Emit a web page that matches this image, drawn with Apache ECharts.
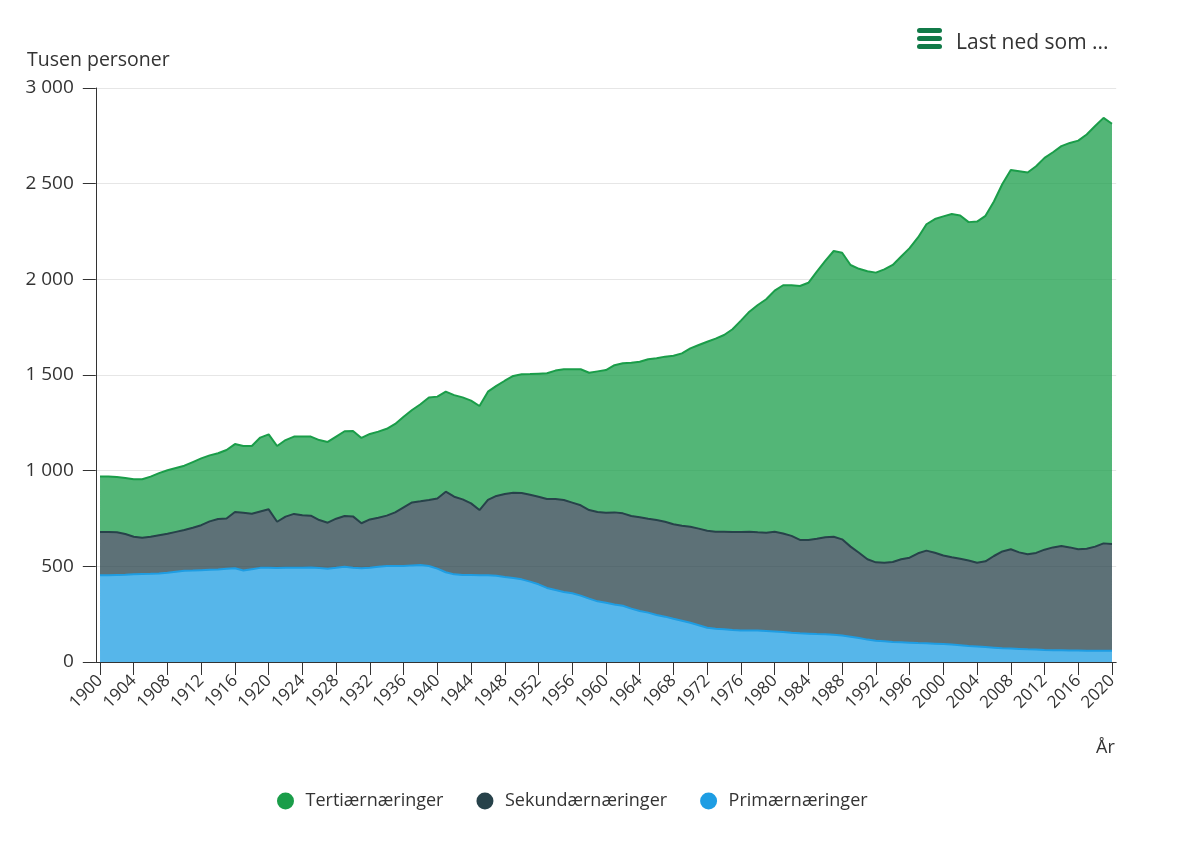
<!DOCTYPE html>
<html>
<head>
<meta charset="UTF-8">
<title>Sysselsatte etter næring</title>
<script src="https://cdn.jsdelivr.net/npm/echarts@6.0.0/dist/echarts.min.js"></script>
<style>
    html,body
    {
        height:100%;
        margin:0;
        width:100%;
        background:#fff;
    }
    #chart{width:1178px;height:843px;}
</style>
</head>
<body>
<div id="chart"></div>
<script>
// årstall og verdier (tusen personer), lest av figuren
var years = ['1900','1901','1902','1903','1904','1905','1906','1907','1908','1909',
    '1910','1911','1912','1913','1914','1915','1916','1917','1918','1919',
    '1920','1921','1922','1923','1924','1925','1926','1927','1928','1929',
    '1930','1931','1932','1933','1934','1935','1936','1937','1938','1939',
    '1940','1941','1942','1943','1944','1945','1946','1947','1948','1949',
    '1950','1951','1952','1953','1954','1955','1956','1957','1958','1959',
    '1960','1961','1962','1963','1964','1965','1966','1967','1968','1969',
    '1970','1971','1972','1973','1974','1975','1976','1977','1978','1979',
    '1980','1981','1982','1983','1984','1985','1986','1987','1988','1989',
    '1990','1991','1992','1993','1994','1995','1996','1997','1998','1999',
    '2000','2001','2002','2003','2004','2005','2006','2007','2008','2009',
    '2010','2011','2012','2013','2014','2015','2016','2017','2018','2019',
    '2020'];

var primaer = [453,454,455,456,458,460,461,463,466,472,
    477,478,480,482,484,487,490,478,485,492,
    493,491,492,492,493,494,491,488,492,498,
    492,490,492,498,502,502,502,505,507,502,
    488,469,458,455,455,453,453,451,444,439,
    432,420,406,387,376,366,359,347,331,317,
    310,301,294,279,267,258,246,237,226,216,
    205,192,179,174,171,167,164,164,164,162,
    160,157,153,150,148,146,145,143,139,132,
    125,117,111,108,105,103,101,99,98,96,
    94,91,88,84,81,78,75,72,70,68,
    66,65,63,62,61,60,60,59,59,59,
    59];

var sekundaer = [227,226,223,213,197,190,194,200,204,208,
    213,224,235,253,263,263,294,302,290,295,
    305,242,268,282,274,271,251,240,257,265,
    269,235,253,256,263,280,306,329,333,345,
    367,421,406,395,374,341,394,417,434,446,
    451,454,458,465,476,481,474,472,463,467,
    470,481,483,484,490,491,496,496,494,496,
    502,505,507,507,510,512,515,517,514,514,
    521,515,506,488,490,498,507,512,502,471,
    446,420,410,411,418,434,444,469,484,475,
    463,456,452,446,438,448,479,506,519,505,
    497,505,524,537,545,539,529,533,544,561,
    558];

var tertiaer = [290,290,289,293,300,305,314,324,332,334,
    336,343,349,345,344,358,355,349,354,386,
    392,396,400,404,411,413,418,422,429,443,
    446,446,447,450,454,462,474,483,507,535,
    532,523,531,533,537,544,566,575,592,610,
    621,631,643,657,671,683,697,711,718,735,
    746,769,784,801,812,833,845,863,881,901,
    932,960,988,1009,1028,1060,1105,1150,1188,1220,
    1260,1297,1310,1327,1344,1396,1444,1493,1498,1472,
    1484,1505,1514,1533,1552,1582,1618,1651,1706,1744,
    1772,1794,1794,1769,1783,1806,1853,1920,1983,1992,
    1995,2021,2048,2065,2090,2114,2136,2165,2198,2224,
    2196];

var font = 'Open Sans';
var chart = echarts.init(document.getElementById('chart'));

function thousands(v){
    return String(v).replace(/\B(?=(\d{3})+(?!\d))/g, ' ');
}

function areaSeries(name, vals, color){
    return {
        name: name,
        type: 'line',
        stack: 'total',
        data: vals,
        symbol: 'none',
        color: color,
        lineStyle: { width: 2, color: color },
        areaStyle: { color: color, opacity: 0.75 },
        emphasis: { disabled: true }
    };
}

chart.setOption({
    animation: false,
    textStyle: { fontFamily: font },
    grid: { left: 95.8, right: 61.8, top: 88, bottom: 181 },
    legend: {
        data: ['Tertiærnæringer', 'Sekundærnæringer', 'Primærnæringer'],
        top: 787,
        left: 272,
        icon: 'circle',
        itemWidth: 30,
        itemHeight: 17,
        itemGap: 33,
        textStyle: { fontFamily: font, fontSize: 18, color: '#333' }
    },
    xAxis: {
        type: 'category',
        data: years,
        boundaryGap: true,
        axisLine: { show: true, lineStyle: { color: '#333', width: 1 } },
        axisTick: { show: true, length: 13, interval: 3, alignWithLabel: true, lineStyle: { color: '#333' } },
        axisLabel: {
            interval: 3,
            rotate: 45,
            margin: 16,
            color: '#333',
            fontFamily: font,
            fontSize: 17
        }
    },
    yAxis: {
        type: 'value',
        min: 0,
        max: 3000,
        interval: 500,
        axisLine: { show: true, lineStyle: { color: '#333', width: 1 } },
        axisTick: { show: true, length: 13, lineStyle: { color: '#333' } },
        splitLine: { lineStyle: { color: '#e6e6e6' } },
        axisLabel: {
            margin: 22,
            color: '#333',
            fontFamily: font,
            fontSize: 19,
            formatter: thousands
        }
    },
    series: [
        areaSeries('Primærnæringer', primaer, '#1e9de3'),
        areaSeries('Sekundærnæringer', sekundaer, '#27424a'),
        areaSeries('Tertiærnæringer', tertiaer, '#1a9d49')
    ],
    graphic: [
        { type: 'text', left: 27, top: 50,
          style: { text: 'Tusen personer', fontFamily: font, fontSize: 19.5, fill: '#333' } },
        { type: 'text', left: 1096, top: 739,
          style: { text: 'År', fontFamily: font, fontSize: 18, fill: '#333' } },
        { type: 'rect', left: 917, top: 28, shape: { width: 25, height: 5, r: 2.5 }, style: { fill: '#117a48' } },
        { type: 'rect', left: 917, top: 36, shape: { width: 25, height: 5, r: 2.5 }, style: { fill: '#117a48' } },
        { type: 'rect', left: 917, top: 44, shape: { width: 25, height: 5, r: 2.5 }, style: { fill: '#117a48' } },
        { type: 'text', left: 956, top: 33,
          style: { text: 'Last ned som ...', fontFamily: font, fontSize: 21, fill: '#333' } }
    ]
});
</script>
</body>
</html>
